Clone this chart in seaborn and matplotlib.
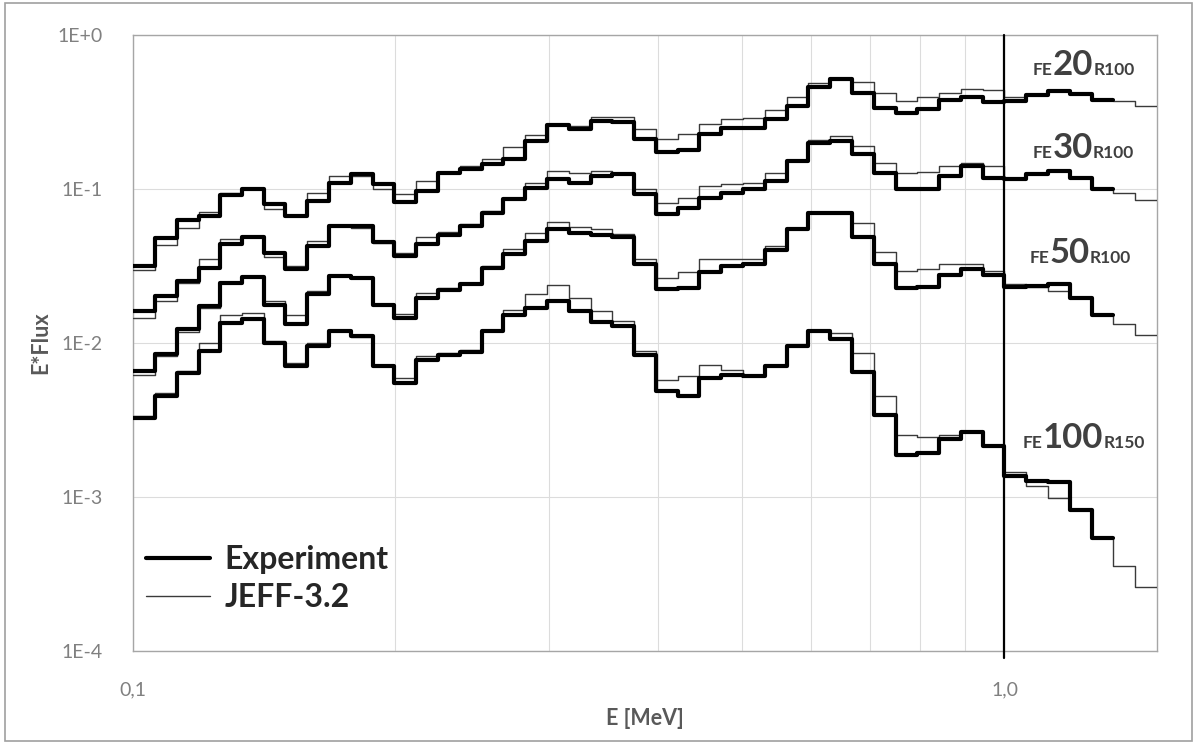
import pandas as pd
import matplotlib.pyplot as plt
import seaborn as sns
from matplotlib.lines import Line2D
from matplotlib.patches import Rectangle
from matplotlib.ticker import FixedLocator, NullLocator, NullFormatter

# group boundaries [MeV], 40 groups per decade
energy_edges = [0.1000, 0.1059, 0.1122, 0.1189, 0.1259, 0.1334, 0.1413, 0.1496,
                0.1585, 0.1679, 0.1778, 0.1884, 0.1995, 0.2113, 0.2239, 0.2371,
                0.2512, 0.2661, 0.2818, 0.2985, 0.3162, 0.3350, 0.3548, 0.3758,
                0.3981, 0.4217, 0.4467, 0.4732, 0.5012, 0.5309, 0.5623, 0.5957,
                0.6310, 0.6683, 0.7079, 0.7499, 0.7943, 0.8414, 0.8913, 0.9441,
                1.0000, 1.0593, 1.1220, 1.1885, 1.2589, 1.3335, 1.4125, 1.4962]

fe20_exp = [0.0316, 0.0484, 0.0631, 0.067, 0.0918, 0.101, 0.0798, 0.067, 0.0839, 0.110,
            0.125, 0.108, 0.0827, 0.0975, 0.128, 0.136, 0.146, 0.157, 0.206, 0.261,
            0.248, 0.279, 0.274, 0.212, 0.175, 0.180, 0.228, 0.252, 0.252, 0.286,
            0.346, 0.459, 0.521, 0.422, 0.336, 0.313, 0.332, 0.382, 0.396, 0.371,
            0.376, 0.409, 0.437, 0.416, 0.381]
fe20_jeff = [0.030, 0.0432, 0.0563, 0.0711, 0.094, 0.101, 0.0741, 0.067, 0.095, 0.122,
             0.122, 0.101, 0.093, 0.113, 0.130, 0.142, 0.158, 0.187, 0.225, 0.261,
             0.259, 0.293, 0.293, 0.246, 0.212, 0.228, 0.265, 0.286, 0.289, 0.329,
             0.396, 0.490, 0.521, 0.500, 0.422, 0.376, 0.396, 0.422, 0.448, 0.444,
             0.400, 0.415, 0.440, 0.418, 0.381, 0.376, 0.349]

fe30_exp = [0.0161, 0.0202, 0.0253, 0.0309, 0.0438, 0.0492, 0.0387, 0.0301, 0.0427, 0.0577,
            0.0577, 0.0454, 0.0368, 0.0438, 0.0502, 0.0577, 0.0705, 0.0861, 0.1025, 0.116,
            0.110, 0.122, 0.125, 0.0927, 0.0687, 0.076, 0.0883, 0.095, 0.101, 0.113,
            0.153, 0.201, 0.206, 0.169, 0.127, 0.101, 0.100, 0.122, 0.141, 0.119,
            0.117, 0.125, 0.132, 0.119, 0.100]
fe30_jeff = [0.0146, 0.0187, 0.0247, 0.035, 0.0472, 0.0492, 0.0364, 0.0316, 0.0461, 0.0577,
             0.0563, 0.045, 0.0387, 0.0488, 0.0527, 0.0592, 0.0722, 0.0883, 0.110, 0.132,
             0.127, 0.132, 0.127, 0.100, 0.081, 0.0883, 0.105, 0.108, 0.109, 0.128,
             0.153, 0.210, 0.222, 0.191, 0.149, 0.127, 0.130, 0.142, 0.149, 0.142,
             0.119, 0.125, 0.132, 0.119, 0.100, 0.095, 0.085]

fe50_exp = [0.00655, 0.00854, 0.01226, 0.0174, 0.0247, 0.0270, 0.0176, 0.0132, 0.0207, 0.0272,
            0.0266, 0.0176, 0.0146, 0.0196, 0.0221, 0.0241, 0.0309, 0.0377, 0.0461, 0.0554,
            0.0522, 0.0505, 0.0492, 0.0325, 0.0225, 0.0229, 0.0288, 0.0316, 0.0325, 0.0402,
            0.0548, 0.0705, 0.0705, 0.0492, 0.0325, 0.0229, 0.0232, 0.0275, 0.0301, 0.0275,
            0.0232, 0.0234, 0.0241, 0.0197, 0.0153]
fe50_jeff = [0.0062, 0.0082, 0.0118, 0.0168, 0.0247, 0.0270, 0.0187, 0.0153, 0.0217, 0.0272,
             0.0268, 0.0180, 0.0155, 0.0212, 0.0229, 0.0247, 0.0315, 0.0406, 0.0522, 0.0612,
             0.0571, 0.0548, 0.0509, 0.035, 0.0266, 0.0289, 0.035, 0.0353, 0.035, 0.0427,
             0.0548, 0.0705, 0.071, 0.060, 0.0391, 0.0294, 0.0304, 0.0325, 0.0325, 0.0294,
             0.0241, 0.0232, 0.0217, 0.0197, 0.0153, 0.0132, 0.0112]

fe100_exp = [0.00326, 0.0045, 0.0064, 0.00885, 0.0135, 0.01435, 0.0100, 0.00706, 0.00953, 0.0119,
             0.0111, 0.00706, 0.0055, 0.0078, 0.0084, 0.00871, 0.0119, 0.0153, 0.0170, 0.0187,
             0.0161, 0.0137, 0.0129, 0.0084, 0.00485, 0.00455, 0.00593, 0.00623, 0.00608, 0.00706,
             0.00953, 0.0119, 0.01054, 0.00645, 0.00342, 0.00188, 0.00193, 0.00238, 0.00262, 0.00213,
             0.00137, 0.00126, 0.00124, 0.00082, 0.00054]
fe100_jeff = [0.00333, 0.0047, 0.00655, 0.0100, 0.0151, 0.0157, 0.0103, 0.00743, 0.00993, 0.0119,
              0.0110, 0.00706, 0.00593, 0.0082, 0.0086, 0.0090, 0.0121, 0.0165, 0.0207, 0.0237,
              0.0197, 0.0161, 0.0139, 0.00885, 0.00578, 0.00608, 0.00724, 0.00672, 0.0062, 0.0072,
              0.0097, 0.0119, 0.01165, 0.00863, 0.0045, 0.00253, 0.00245, 0.00253, 0.00265, 0.00213,
              0.00144, 0.00117, 0.00098, 0.00082, 0.00054, 0.000355, 0.000258]

# (small prefix, thickness, small suffix, baseline x, baseline y) in pixels
case_labels = [("FE", "20", "R100", 1033, 75),
               ("FE", "30", "R100", 1033, 158),
               ("FE", "50", "R100", 1030, 263),
               ("FE", "100", "R150", 1023, 448)]
y_ticks = [1e0, 1e-1, 1e-2, 1e-3, 1e-4]
y_tick_labels = ["1E+0", "1E-1", "1E-2", "1E-3", "1E-4"]
x_ticks = [0.1, 1.0]
x_tick_labels = ["0,1", "1,0"]


def steps(values):
    n = len(values)
    return pd.DataFrame({"E": energy_edges[:n + 1], "flux": list(values) + [values[-1]]})


sns.set_theme(style="white")
plt.rcParams['font.family'] = ['Lato', 'DejaVu Sans']

W, H = 1196, 744
fig = plt.figure(figsize=(W / 100, H / 100), dpi=100)
ax = fig.add_axes([133 / W, 1 - 650.5 / H, 1024 / W, 615 / H])

for exp, jeff in [(fe20_exp, fe20_jeff), (fe30_exp, fe30_jeff),
                  (fe50_exp, fe50_jeff), (fe100_exp, fe100_jeff)]:
    sns.lineplot(data=steps(jeff), x="E", y="flux", drawstyle="steps-post",
                 color="#3a3a3a", lw=1.0, estimator=None, ax=ax, zorder=3)
    sns.lineplot(data=steps(exp), x="E", y="flux", drawstyle="steps-post",
                 color="black", lw=3.0, estimator=None, ax=ax, zorder=4)

ax.axvline(1.0, ymin=-0.012, color="black", lw=1.6, clip_on=False, zorder=5)

ax.set_xscale("log")
ax.set_yscale("log")
ax.set_xlim(0.1, energy_edges[-1])
ax.set_ylim(1e-4, 1)

ax.xaxis.set_major_locator(FixedLocator(x_ticks))
ax.set_xticklabels(x_tick_labels)
ax.xaxis.set_minor_locator(FixedLocator([0.2, 0.3, 0.4, 0.5, 0.6, 0.7, 0.8, 0.9]))
ax.xaxis.set_minor_formatter(NullFormatter())
ax.yaxis.set_major_locator(FixedLocator(y_ticks))
ax.set_yticklabels(y_tick_labels)
ax.yaxis.set_minor_locator(NullLocator())
ax.tick_params(axis="both", which="both", length=0, labelsize=14, labelcolor="#808080")
ax.tick_params(axis="x", pad=22)
ax.tick_params(axis="y", pad=22)
ax.grid(True, which="both", color="#dcdcdc", lw=0.8)
for s in ax.spines.values():
    s.set_color("#a6a6a6")
    s.set_linewidth(1.0)

ax.set_xlabel("E [MeV]", fontsize=15.5, fontweight="bold", color="#595959")
ax.set_ylabel("E*Flux", fontsize=15.5, fontweight="bold", color="#595959")
ax.xaxis.set_label_coords(0.5, -0.093)
ax.yaxis.set_label_coords(-0.08, 0.5)

handles = [Line2D([], [], color="black", lw=3.0),
           Line2D([], [], color="#3a3a3a", lw=1.0)]
ax.legend(handles, ["Experiment", "JEFF-3.2"], loc="lower left",
          bbox_to_anchor=(0.013, 0.062), frameon=False, borderpad=0, borderaxespad=0,
          handlelength=2.0, handletextpad=0.45, labelspacing=0.28,
          prop={"family": "Lato", "weight": "bold", "size": 23})

renderer = fig.canvas.get_renderer()
for pre, num, post, px, py in case_labels:
    x = px
    for part, size in [(pre, 12.5), (num, 25), (post, 12.5)]:
        t = fig.text(x, H - py, part, transform=None, fontsize=size, fontweight="bold",
                     color="#404040", va="baseline", ha="left")
        x = t.get_window_extent(renderer).x1

fig.patches.append(Rectangle((5 / W, 3 / H), 1187 / W, 738 / H, transform=fig.transFigure,
                             fill=False, ec="#a0a0a0", lw=1.2))

fig.savefig("out.png", dpi=100)
